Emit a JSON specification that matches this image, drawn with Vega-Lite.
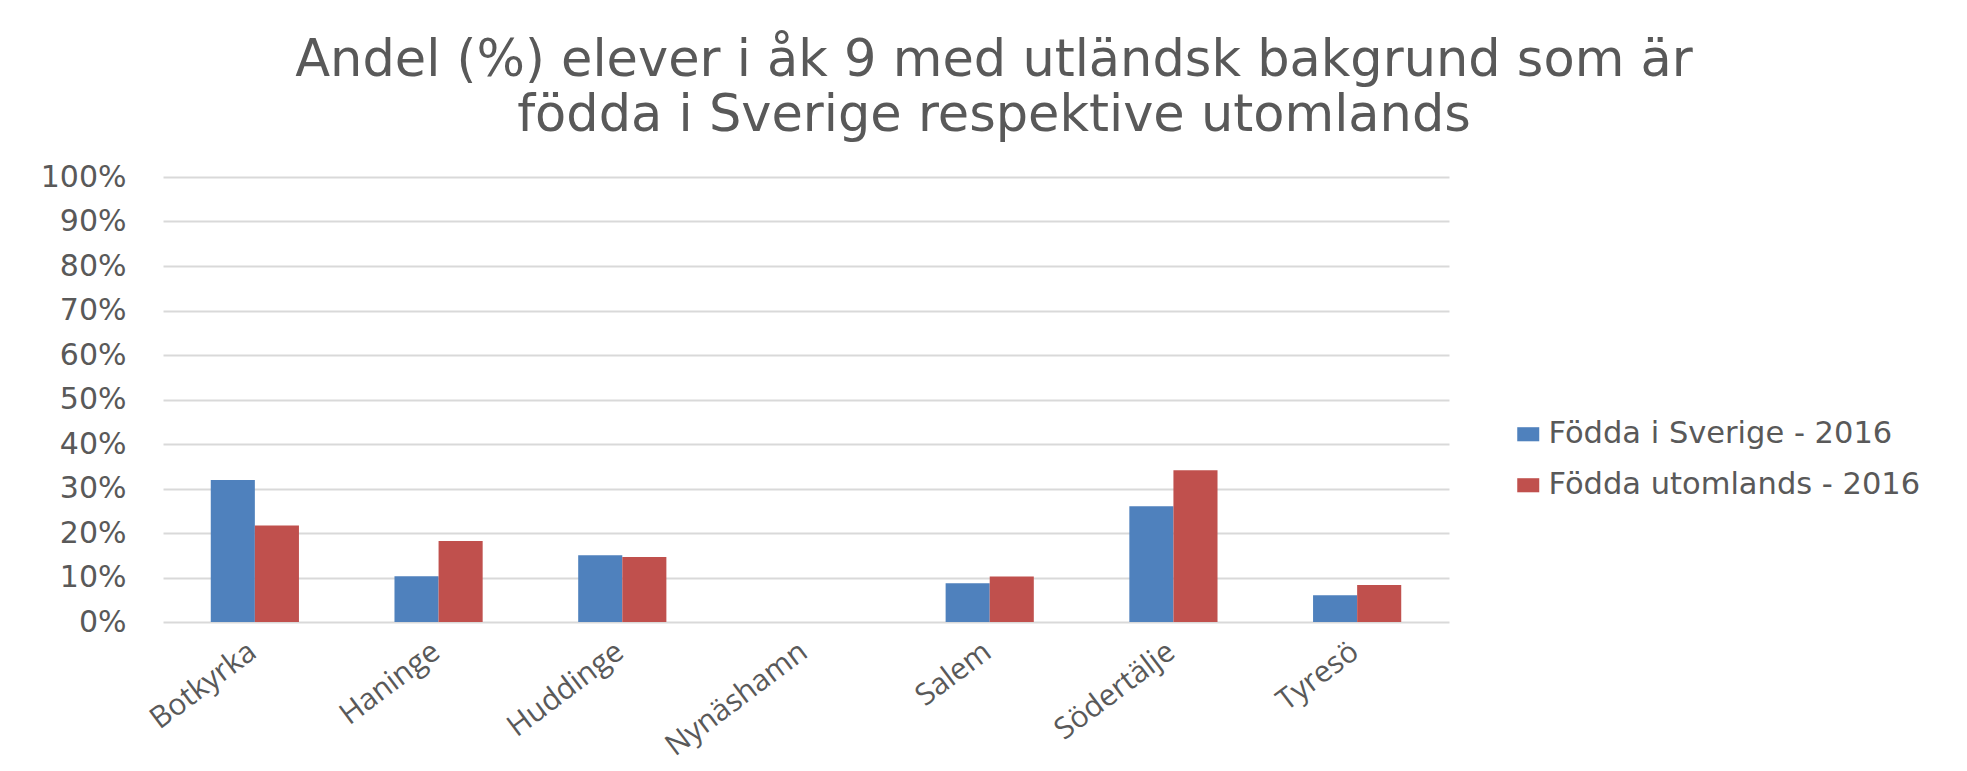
{
  "$schema": "https://vega.github.io/schema/vega-lite/v6.json",
  "autosize": {"type": "none"},
  "width": 1286,
  "height": 445,
  "padding": {"left": 163, "top": 177, "right": 518, "bottom": 149},
  "background": "white",
  "title": {
    "text": ["Andel (%) elever i åk 9 med utländsk bakgrund som är", "födda i Sverige respektive utomlands"],
    "font": "DejaVu Sans",
    "fontSize": 51,
    "fontWeight": "normal",
    "color": "#595959",
    "lineHeight": 55,
    "anchor": "middle",
    "frame": "group",
    "dx": 188,
    "offset": 20
  },
  "data": {
    "values": [
      {"kommun": "Botkyrka", "serie": "Födda i Sverige - 2016", "andel": 0.319},
      {"kommun": "Botkyrka", "serie": "Födda utomlands - 2016", "andel": 0.217},
      {"kommun": "Haninge", "serie": "Födda i Sverige - 2016", "andel": 0.103},
      {"kommun": "Haninge", "serie": "Födda utomlands - 2016", "andel": 0.182},
      {"kommun": "Huddinge", "serie": "Födda i Sverige - 2016", "andel": 0.150},
      {"kommun": "Huddinge", "serie": "Födda utomlands - 2016", "andel": 0.146},
      {"kommun": "Nynäshamn", "serie": "Födda i Sverige - 2016", "andel": null},
      {"kommun": "Nynäshamn", "serie": "Födda utomlands - 2016", "andel": null},
      {"kommun": "Salem", "serie": "Födda i Sverige - 2016", "andel": 0.087},
      {"kommun": "Salem", "serie": "Födda utomlands - 2016", "andel": 0.102},
      {"kommun": "Södertälje", "serie": "Födda i Sverige - 2016", "andel": 0.260},
      {"kommun": "Södertälje", "serie": "Födda utomlands - 2016", "andel": 0.341},
      {"kommun": "Tyresö", "serie": "Födda i Sverige - 2016", "andel": 0.060},
      {"kommun": "Tyresö", "serie": "Födda utomlands - 2016", "andel": 0.083}
    ]
  },
  "mark": {"type": "bar"},
  "encoding": {
    "x": {
      "field": "kommun",
      "type": "nominal",
      "sort": null,
      "scale": {
        "domain": ["Botkyrka", "Haninge", "Huddinge", "Nynäshamn", "Salem", "Södertälje", "Tyresö"],
        "paddingInner": 0.52,
        "paddingOuter": 0.26
      },
      "axis": {
        "title": null,
        "labelAngle": -37,
        "labelAlign": "right",
        "labelBaseline": "top",
        "labelFont": "Open Sans",
        "labelFontSize": 30,
        "labelColor": "#595959",
        "ticks": false,
        "domain": false,
        "grid": false,
        "labelPadding": 14,
        "labelOffset": -11
      }
    },
    "xOffset": {
      "field": "serie",
      "type": "nominal",
      "scale": {"paddingInner": 0, "paddingOuter": 0}
    },
    "y": {
      "field": "andel",
      "type": "quantitative",
      "scale": {"domain": [0, 1]},
      "axis": {
        "title": null,
        "format": ".0%",
        "values": [0, 0.1, 0.2, 0.3, 0.4, 0.5, 0.6, 0.7, 0.8, 0.9, 1],
        "labelFont": "DejaVu Sans",
        "labelFontSize": 30,
        "labelColor": "#595959",
        "ticks": false,
        "domain": false,
        "gridColor": "#D9D9D9",
        "gridWidth": 2,
        "labelPadding": 37
      }
    },
    "color": {
      "field": "serie",
      "type": "nominal",
      "scale": {
        "domain": ["Födda i Sverige - 2016", "Födda utomlands - 2016"],
        "range": ["#4F81BD", "#C0504D"]
      },
      "legend": {
        "title": null,
        "orient": "none",
        "legendX": 1350,
        "legendY": 242,
        "padding": 0,
        "symbolType": "M-1,-0.64H1V0.64H-1Z",
        "symbolSize": 484,
        "symbolStrokeWidth": 0,
        "symbolOpacity": 1,
        "labelFont": "DejaVu Sans",
        "labelFontSize": 30.5,
        "labelColor": "#595959",
        "labelOffset": 5,
        "labelLimit": 600,
        "rowPadding": 20
      }
    }
  },
  "config": {
    "view": {"stroke": null}
  }
}
